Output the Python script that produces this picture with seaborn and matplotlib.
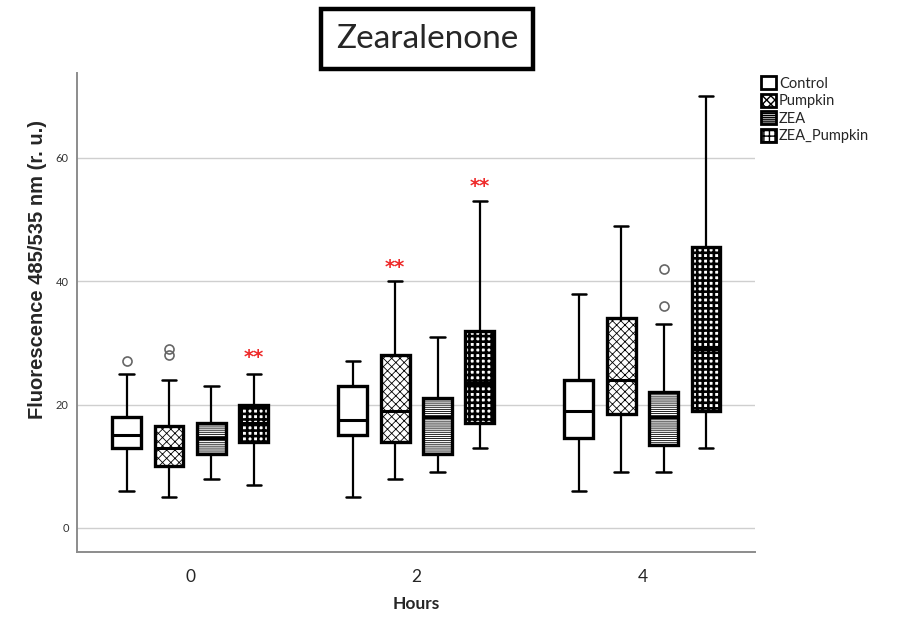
import numpy as np
import pandas as pd
import seaborn as sns
import matplotlib
matplotlib.use("Agg")
import matplotlib.pyplot as plt
from matplotlib.patches import Patch

hours = ["0", "2", "4"]
groups = ["Control", "Pumpkin", "ZEA", "ZEA_Pumpkin"]

# box statistics (one value per hour)
control_lo = [6, 5, 6]
control_q1 = [13, 15, 14.5]
control_med = [15, 17.5, 19]
control_q3 = [18, 23, 24]
control_hi = [25, 27, 38]

pumpkin_lo = [5, 8, 9]
pumpkin_q1 = [10, 14, 18.5]
pumpkin_med = [13, 19, 24]
pumpkin_q3 = [16.5, 28, 34]
pumpkin_hi = [24, 40, 49]

zea_lo = [8, 9, 9]
zea_q1 = [12, 12, 13.5]
zea_med = [14.5, 18, 18]
zea_q3 = [17, 21, 22]
zea_hi = [23, 31, 33]

zp_lo = [7, 13, 13]
zp_q1 = [14, 17, 19]
zp_med = [17, 23.5, 29]
zp_q3 = [20, 32, 45.5]
zp_hi = [25, 53, 70]

out_group = ["Control", "Pumpkin", "Pumpkin", "ZEA", "ZEA"]
out_hour = ["0", "0", "0", "4", "4"]
out_value = [27, 28, 29, 36, 42]

star_group = ["ZEA_Pumpkin", "Pumpkin", "ZEA_Pumpkin"]
star_hour = ["0", "2", "2"]
star_y = [27.6, 42.2, 55.3]

stats = {
    "Control": (control_lo, control_q1, control_med, control_q3, control_hi),
    "Pumpkin": (pumpkin_lo, pumpkin_q1, pumpkin_med, pumpkin_q3, pumpkin_hi),
    "ZEA": (zea_lo, zea_q1, zea_med, zea_q3, zea_hi),
    "ZEA_Pumpkin": (zp_lo, zp_q1, zp_med, zp_q3, zp_hi),
}

# long table for seaborn: repeat quartiles so the computed box equals the read stats
rows = []
for g in groups:
    lo, q1, med, q3, hi = stats[g]
    for i, h in enumerate(hours):
        vals = [lo[i]] + [q1[i]] * 10 + [med[i]] * 10 + [q3[i]] * 10 + [hi[i]]
        for v in vals:
            rows.append((h, g, v))
for g, h, v in zip(out_group, out_hour, out_value):
    rows.append((h, g, v))
df = pd.DataFrame(rows, columns=["Hours", "group", "value"])

sns.set_style("white")
plt.rcParams["font.family"] = ["Lato", "DejaVu Sans"]

fig = plt.figure(figsize=(9.08, 6.18), dpi=100)
ax = fig.add_axes([0.085, 0.107, 0.747, 0.775])

box_w = 0.75
sns.boxplot(data=df, x="Hours", y="value", hue="group", order=hours, hue_order=groups,
            palette={g: "white" for g in groups}, linecolor="black", width=box_w, gap=0.32,
            dodge=True, linewidth=1.6, fliersize=6.5, legend=False, ax=ax,
            boxprops=dict(linewidth=2.4), medianprops=dict(linewidth=2.2, color="black"),
            whiskerprops=dict(linewidth=1.6), capprops=dict(linewidth=1.8),
            flierprops=dict(marker="o", markerfacecolor="none", markeredgecolor="#666666",
                            markeredgewidth=1.2))

hatches = {"Control": "", "Pumpkin": "xxxx", "ZEA": "--------", "ZEA_Pumpkin": "+++"}
hatch_lw = {"Control": 1.0, "Pumpkin": 0.6, "ZEA": 0.6, "ZEA_Pumpkin": 1.9}
for i, p in enumerate(ax.patches):
    g = groups[i // len(hours)]
    p.set_hatch(hatches[g])
    if hasattr(p, "set_hatch_linewidth"):
        p.set_hatch_linewidth(hatch_lw[g])
    p.set_zorder(2)
for ln in ax.lines:
    ln.set_zorder(2.5)

# grid lines behind the boxes
for yv in [0, 20, 40, 60]:
    ax.axhline(yv, color="#cfcfcf", lw=1, zorder=0)

# significance stars
slot = box_w / len(groups)
for g, h, yv in zip(star_group, star_hour, star_y):
    xpos = hours.index(h) + (groups.index(g) - 1.5) * slot
    ax.text(xpos, yv, "**", color="#ee2a2a", fontsize=14, fontweight="bold",
            ha="center", va="center", family="DejaVu Sans")

ax.set_xlim(-0.5, 2.5)
ax.set_ylim(-3.9, 73.8)
ax.set_yticks([0, 20, 40, 60])
ax.tick_params(axis="y", length=0, labelsize=8, labelcolor="#333333", pad=6)
ax.tick_params(axis="x", length=0, labelsize=12.5, pad=12)
for s in ["top", "right"]:
    ax.spines[s].set_visible(False)
for s in ["left", "bottom"]:
    ax.spines[s].set_color("#8c8c8c")
    ax.spines[s].set_linewidth(1.4)

ax.set_xlabel("Hours", fontsize=12.5, fontweight="bold", labelpad=8)
ax.set_ylabel("Fluorescence 485/535 nm (r. u.)", fontsize=14.5, fontweight="bold",
              family="Liberation Sans")
ax.yaxis.set_label_coords(-0.045, 0.589)

handles = [Patch(facecolor="white", edgecolor="black", hatch=hatches[g], linewidth=2, label=g)
           for g in groups]
for g, hnd in zip(groups, handles):
    if hasattr(hnd, "set_hatch_linewidth"):
        hnd.set_hatch_linewidth(hatch_lw[g])
fig.legend(handles=handles, loc="upper left", bbox_to_anchor=(0.832, 0.886), frameon=False,
           fontsize=10.5, handlelength=1.0, handleheight=1.0, handletextpad=0.2,
           labelspacing=0.2, borderaxespad=0)

fig.text(0.47, 0.937, "Zearalenone", fontsize=24, ha="center", va="center",
         bbox=dict(boxstyle="square,pad=0.45", facecolor="white", edgecolor="black", linewidth=3.2))

fig.savefig("out.png", dpi=100)
